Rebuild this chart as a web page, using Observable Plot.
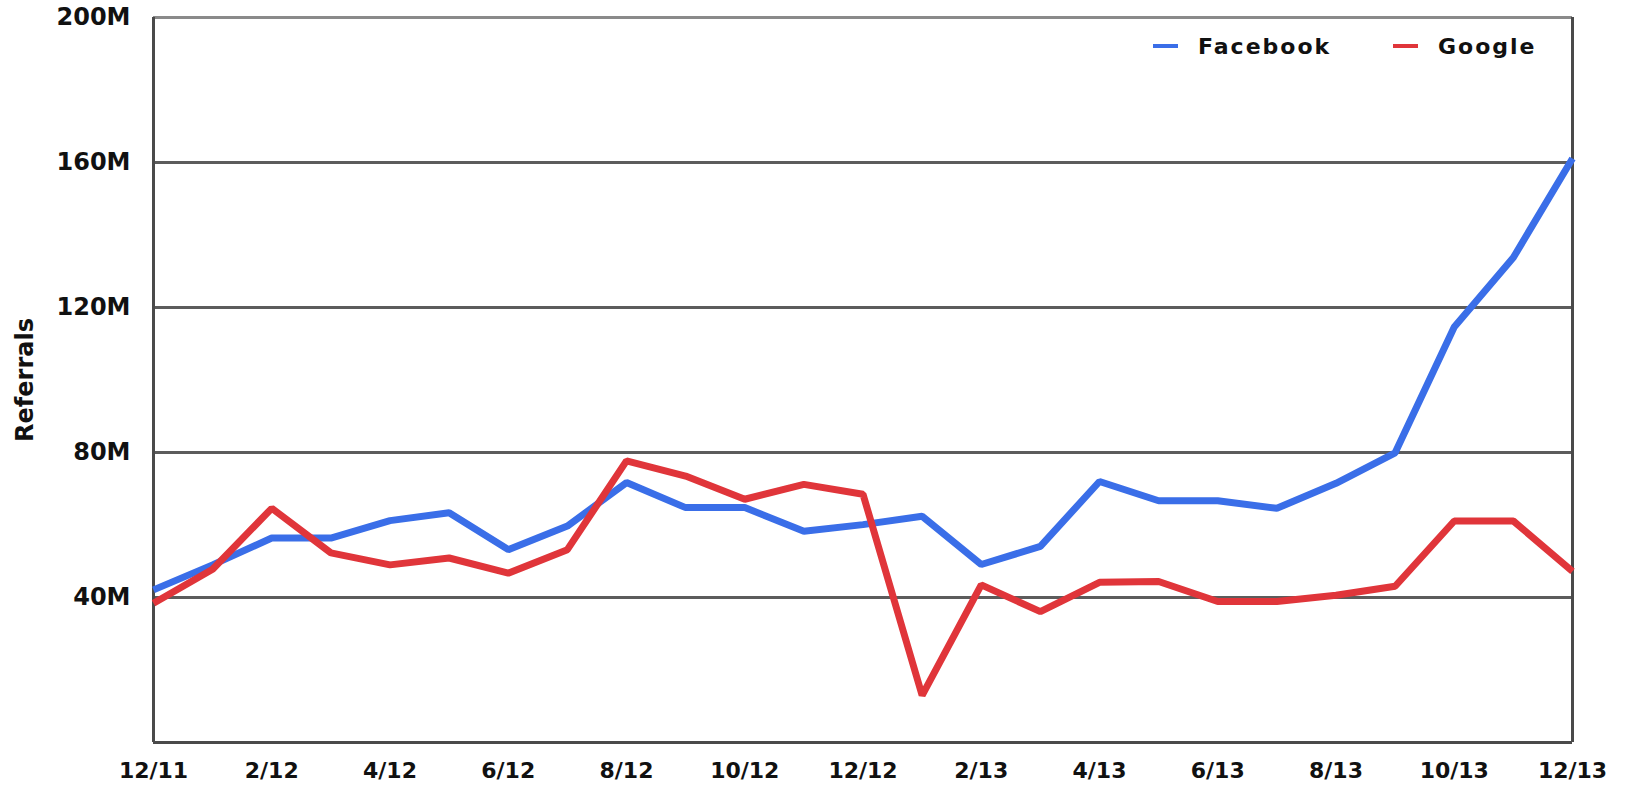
<!DOCTYPE html>
<html>
<head>
<meta charset="utf-8">
<script src="https://cdn.jsdelivr.net/npm/d3@7"></script>
<script src="https://cdn.jsdelivr.net/npm/@observablehq/plot@0.6"></script>
<style>
  html, body { margin: 0; padding: 0; background: #fff; }
  #wrap { position: relative; width: 1635px; height: 787px; }
  .legend { position: absolute; top: 34px; font-family: "DejaVu Sans", sans-serif; font-weight: bold; font-size: 22px; letter-spacing: 2px; color: #111; white-space: nowrap; }
  .legend span.sw { display: inline-block; width: 25px; height: 4px; vertical-align: middle; margin-right: 20px; position: relative; top: -2px; }
</style>
</head>
<body>
<div id="wrap"></div>
<script>
// Month labels, one per data point (12/11 .. 12/13)
const months = ["12/11","1/12","2/12","3/12","4/12","5/12","6/12","7/12","8/12","9/12","10/12","11/12","12/12",
                "1/13","2/13","3/13","4/13","5/13","6/13","7/13","8/13","9/13","10/13","11/13","12/13"];
// Referrals in millions
const facebook = [42.1, 49.0, 56.4, 56.4, 61.2, 63.4, 53.2, 59.7, 71.7, 64.8, 64.8, 58.3, 60.1,
                  62.4, 49.1, 54.1, 72.0, 66.7, 66.7, 64.6, 71.5, 79.9, 114.6, 133.8, 161.1];
const google   = [38.4, 47.8, 64.6, 52.3, 49.0, 50.9, 46.7, 53.2, 77.7, 73.5, 67.1, 71.2, 68.5,
                  13.0, 43.5, 36.1, 44.2, 44.4, 38.9, 38.9, 40.6, 43.1, 61.1, 61.1, 47.2];
const seriesNames = ["Facebook", "Google"];
const seriesColors = ["#3a6ee8", "#e0353a"];
const yTicks = [40, 80, 120, 160, 200];
const gridValues = [40, 80, 120, 160];
const xTickIdx = d3.range(0, months.length, 2);

const rows = [];
months.forEach((m, i) => {
  rows.push({i, month: m, series: "Facebook", value: facebook[i]});
  rows.push({i, month: m, series: "Google", value: google[i]});
});

const chart = Plot.plot({
  width: 1635,
  height: 787,
  marginLeft: 153,
  marginRight: 63,
  marginTop: 17,
  marginBottom: 45,
  style: { fontFamily: "DejaVu Sans, sans-serif", fontWeight: "bold", color: "#111", background: "#fff" },
  x: { type: "linear", domain: [0, months.length - 1] },
  y: { domain: [0, 200] },
  color: { domain: seriesNames, range: seriesColors },
  marks: [
    Plot.ruleY(gridValues, { stroke: "#5c5c5c", strokeWidth: 3 }),
    Plot.ruleY([200], { stroke: "#8a8a8a", strokeWidth: 3 }),
    Plot.ruleY([0], { stroke: "#4a4a4a", strokeWidth: 3 }),
    Plot.ruleX([0, months.length - 1], { stroke: "#4a4a4a", strokeWidth: 3 }),
    Plot.line(rows, { x: "i", y: "value", z: "series", stroke: "series", strokeWidth: 7, strokeLinejoin: "miter", strokeLinecap: "butt" }),
    Plot.axisY({ ticks: yTicks, tickFormat: d => d + "M", tickSize: 0, tickPadding: 23, fontSize: 24, label: null }),
    Plot.axisX({ ticks: xTickIdx, tickFormat: i => months[i], tickSize: 0, tickPadding: 20, fontSize: 22, label: null }),
    Plot.text(["Referrals"], { frameAnchor: "left", dx: -128, rotate: -90, fontSize: 24, textAnchor: "middle", fill: "#111" })
  ]
});

const wrap = document.getElementById("wrap");
wrap.appendChild(chart);

const legendPos = [1153, 1393];
seriesNames.forEach((name, k) => {
  const d = document.createElement("div");
  d.className = "legend";
  d.style.left = legendPos[k] + "px";
  d.innerHTML = `<span class="sw" style="background:${seriesColors[k]}"></span>${name}`;
  wrap.appendChild(d);
});
</script>
</body>
</html>
